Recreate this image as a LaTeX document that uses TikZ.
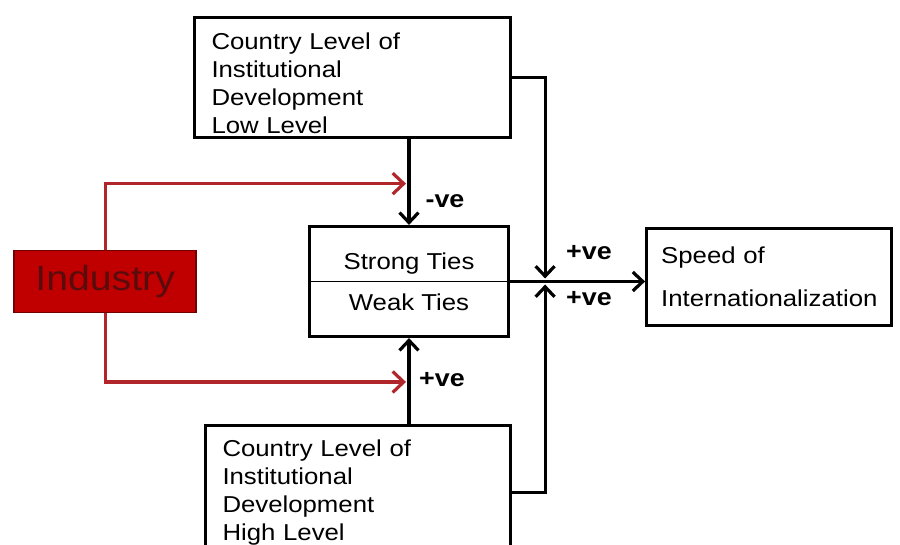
\documentclass[tikz,border=0pt]{standalone}
\usepackage{fontspec}
\setmainfont{Liberation Sans}[FakeStretch=1.12]
\usetikzlibrary{arrows.meta,positioning,calc}
\definecolor{indred}{HTML}{C00000}
\definecolor{indtext}{HTML}{5A0C0C}
\definecolor{linkred}{HTML}{B0262A}

\begin{document}
\begin{tikzpicture}[x=1pt,y=-1pt,box/.style={draw,line width=3.2pt,align=left,inner xsep=17pt,font=\fontsize{23}{28}\selectfont},arr/.style={line width=3.2pt,-{Straight Barb[length=10pt,width=19pt,line width=3.2pt]}},redarr/.style={draw=linkred,line width=3.2pt,-{Straight Barb[length=11pt,width=21pt,line width=3.2pt]}},sign/.style={font=\fontsize{24}{28}\selectfont\bfseries}]
\useasboundingbox (0,0) rectangle (900,545);
\node[box,align=center,minimum width=199pt,minimum height=110pt] (ties) at (409,281.5) {Strong Ties\\[13pt]Weak Ties};
\node[box,text width=282pt,minimum height=120pt,above=86pt of ties,xshift=-56.5pt] (low) {\rule{0pt}{29pt}Country Level of\\Institutional\\Development\\Low Level};
\node[box,text width=271pt,minimum height=133pt,below=86pt of ties,xshift=-51pt] (high) {Country Level of\\Institutional\\Development\\High Level};
\node[box,text width=216pt,inner xsep=14.5pt,minimum height=97pt,right=135pt of ties,yshift=4.5pt] (speed) {Speed of\\[15pt]Internationalization};
\node[draw=indred!60!black,fill=indred,line width=1.5pt,minimum width=182pt,minimum height=62pt,text=indtext,font=\fontsize{35}{40}\selectfont,left=111pt of ties] (ind) {Industry};
\draw[line width=1.2pt] (ties.west) -- (ties.east);
% ties -> speed
\coordinate (jn) at ([xshift=35pt]ties.east);
\draw[arr] (ties.east) -- (ties.east -| speed.west);
\draw[arr] (low.east) -| ([yshift=3pt]jn);
\draw[arr] (high.east) -| ([yshift=-3pt]jn);
% institutions -> ties
\draw[arr] (low.south -| ties.north) -- (ties.north);
\draw[arr] (high.north -| ties.south) -- (ties.south);
% industry moderates
\coordinate (rt) at ($(low.south -| ties.north)!0.52!(ties.north)$);
\coordinate (rb) at ($(ties.south)!0.51!(high.north -| ties.south)$);
\draw[redarr] (ind.north) |- ([xshift=-3pt]rt);
\draw[redarr] (ind.south) |- ([xshift=-3pt]rb);
\node[sign] (neg) at (445,201) {-ve};
\node[sign] (posb) at (442,380) {+ve};
\node[sign] (posl) at (589,253) {+ve};
\node[sign] (posh) at (589,299) {+ve};
\end{tikzpicture}
\end{document}
